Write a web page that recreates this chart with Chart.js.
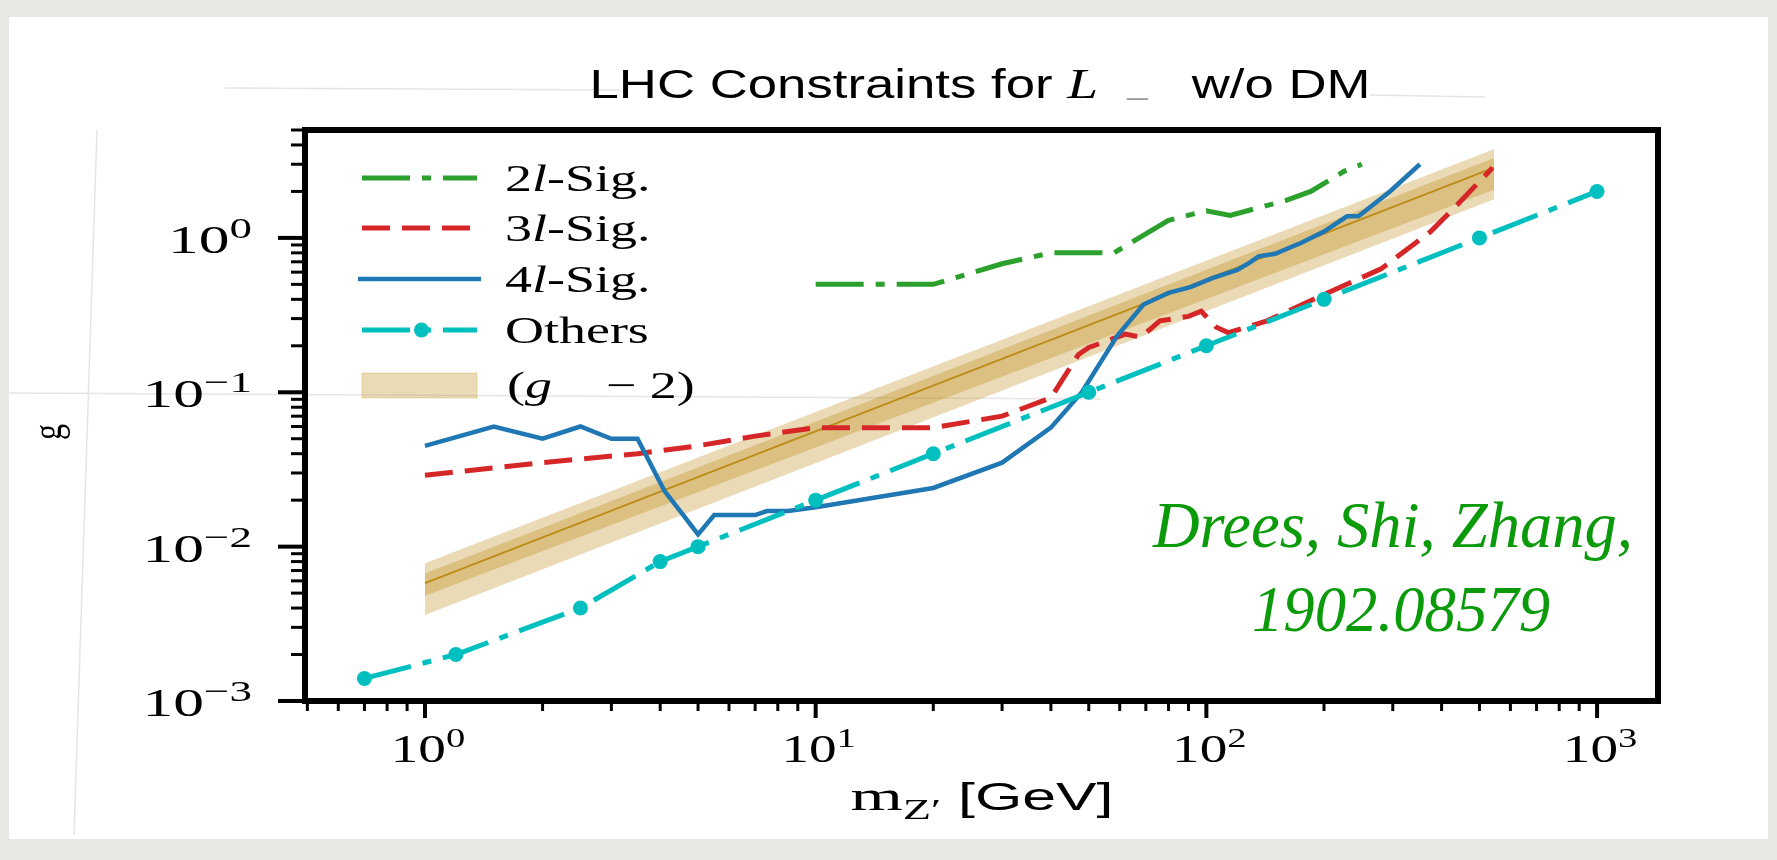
<!DOCTYPE html>
<html>
<head>
<meta charset="utf-8">
<script src="https://cdn.jsdelivr.net/npm/chart.js@4.4.1/dist/chart.umd.min.js"></script>
<style>
  html, body { margin: 0; padding: 0; background: #e9e7e4; overflow: hidden; }
  canvas { display: block; }
</style>
</head>
<body>
<canvas id="lhcChart" width="1777" height="860"></canvas>
<script>
// --- data (m_Z' in GeV, coupling g) ---
const x2l = [10, 20, 30, 40, 58, 80, 100, 115, 160, 185, 225, 250];
const y2l = [0.5, 0.5, 0.68, 0.8, 0.8, 1.3, 1.5, 1.4, 1.75, 2.0, 2.7, 3.0];

const x3l = [1, 2, 3.5, 5, 7, 10, 20, 30, 40, 47, 50, 62, 68, 76, 90, 97, 106, 114, 143, 192, 280, 375, 440, 540];
const y3l = [0.029, 0.035, 0.040, 0.045, 0.052, 0.059, 0.059, 0.070, 0.092, 0.175, 0.195, 0.238, 0.227, 0.29, 0.31, 0.335, 0.264, 0.243, 0.29, 0.41, 0.63, 1.1, 1.65, 2.85];

const x4l = [1, 1.5, 2, 2.5, 3, 3.5, 4.1, 4.5, 5, 5.5, 7, 7.5, 8.5, 10, 20, 30, 40, 48, 59, 69, 80, 91, 104, 120, 130, 136, 150, 175, 200, 229, 245, 295, 352];
const y4l = [0.045, 0.06, 0.05, 0.06, 0.05, 0.05, 0.023, 0.017, 0.012, 0.016, 0.016, 0.017, 0.017, 0.018, 0.024, 0.035, 0.059, 0.10, 0.23, 0.37, 0.44, 0.48, 0.55, 0.62, 0.70, 0.76, 0.79, 0.93, 1.1, 1.38, 1.38, 2.0, 3.0];

const xOthers = [0.7, 1.2, 2.5, 4, 5, 10, 20, 50, 100, 200, 500, 1000];
const yOthers = [0.0014, 0.002, 0.004, 0.008, 0.01, 0.02, 0.04, 0.1, 0.2, 0.4, 1.0, 2.0];

// (g-2) preferred band
const bandX = [1, 545];
const bandMid = [0.0058, 2.85];
const bandOuterUp = [0.0078, 3.75];
const bandOuterLow = [0.0036, 1.78];
const bandInnerUp = [0.0067, 3.3];
const bandInnerLow = [0.0048, 2.05];

// axis ticks
const xMajorTicks = [1, 10, 100, 1000];
const xTickExp = ['0', '1', '2', '3'];
const yMajorTicks = [0.001, 0.01, 0.1, 1];
const yTickExp = ['\u22123', '\u22122', '\u22121', '0'];

const pts = (xs, ys) => xs.map((x, i) => ({ x: x, y: ys[i] }));

const SERIF = '"Liberation Serif", "DejaVu Serif", serif';
const SANS = '"Liberation Sans", Arial, sans-serif';
const STRETCH = 1.42;

// draws a row of text pieces, optionally stretched horizontally
function drawRuns(ctx, runs, x, y, align, sx) {
    let total = 0;
    runs.forEach(r => { ctx.font = r.font; r.w = ctx.measureText(r.text).width; total += r.w; });
    const start = align === 'center' ? x - total * sx / 2 : (align === 'right' ? x - total * sx : x);
    ctx.save();
    ctx.translate(start, y);
    ctx.scale(sx, 1);
    ctx.textAlign = 'left';
    ctx.textBaseline = 'alphabetic';
    let cx = 0;
    runs.forEach(r => {
        ctx.font = r.font;
        ctx.fillStyle = r.color || '#000';
        ctx.fillText(r.text, cx, r.dy || 0);
        cx += r.w;
    });
    ctx.restore();
}

function runsWidth(ctx, runs) {
    let total = 0;
    runs.forEach(r => { ctx.font = r.font; total += ctx.measureText(r.text).width; });
    return total;
}

const decor = {
    id: 'decor',
    beforeDraw(chart) {
        const ctx = chart.ctx;
        ctx.save();
        ctx.fillStyle = '#e9e7e4';
        ctx.fillRect(0, 0, chart.width, chart.height);
        ctx.fillStyle = '#ffffff';
        ctx.fillRect(9, 17, 1759, 822);
        // faint scan lines of the slide
        ctx.strokeStyle = 'rgba(190,190,190,0.4)';
        ctx.lineWidth = 1.5;
        ctx.beginPath();
        ctx.moveTo(9, 393); ctx.lineTo(1100, 399);
        ctx.moveTo(225, 88); ctx.lineTo(620, 90);
        ctx.moveTo(1370, 95); ctx.lineTo(1485, 97);
        ctx.moveTo(97, 130); ctx.lineTo(74, 835);
        ctx.stroke();
        ctx.restore();
    },
    afterDraw(chart) {
        const ctx = chart.ctx;
        const a = chart.chartArea;
        const xs = chart.scales.x, ys = chart.scales.y;
        ctx.save();

        // ticks
        ctx.strokeStyle = '#000';
        [-1, 0, 1, 2, 3].forEach(d => {
            for (let m = 1; m <= 9; m++) {
                const v = m * Math.pow(10, d);
                const major = m === 1;
                if (v >= xs.min * 0.999 && v <= xs.max * 1.001) {
                    const px = xs.getPixelForValue(v);
                    ctx.lineWidth = major ? 4 : 3;
                    ctx.beginPath();
                    ctx.moveTo(px, a.bottom);
                    ctx.lineTo(px, a.bottom + (major ? 17 : 10));
                    ctx.stroke();
                }
            }
        });
        [-4, -3, -2, -1, 0].forEach(d => {
            for (let m = 1; m <= 9; m++) {
                const v = m * Math.pow(10, d);
                const major = m === 1;
                if (v >= ys.min * 0.999 && v <= ys.max * 1.001) {
                    const py = ys.getPixelForValue(v);
                    ctx.lineWidth = major ? 4 : 3;
                    ctx.beginPath();
                    ctx.moveTo(a.left, py);
                    ctx.lineTo(a.left - (major ? 27 : 14), py);
                    ctx.stroke();
                }
            }
        });

        // frame
        ctx.lineWidth = 6;
        ctx.strokeRect(a.left, a.top, a.right - a.left, a.bottom - a.top);

        // tick labels
        xMajorTicks.forEach((v, i) => {
            drawRuns(ctx, [
                { text: '10', font: '40px ' + SERIF },
                { text: xTickExp[i], font: '28px ' + SERIF, dy: -15 }
            ], xs.getPixelForValue(v) + 3, 762, 'center', 1.38);
        });
        yMajorTicks.forEach((v, i) => {
            drawRuns(ctx, [
                { text: '10', font: '41px ' + SERIF },
                { text: yTickExp[i], font: '30px ' + SERIF, dy: -15 }
            ], 252, ys.getPixelForValue(v) + 15, 'right', 1.5);
        });

        // axis labels
        const xLabel = [
            { text: 'm', font: '42px ' + SERIF },
            { text: 'Z\u2032', font: '29px ' + SERIF, dy: 9 },
            { text: ' [GeV]', font: '38px ' + SANS }
        ];
        drawRuns(ctx, xLabel, 982, 810, 'center', 263 / runsWidth(ctx, xLabel));

        ctx.save();
        ctx.translate(50, 432);
        ctx.scale(1.3, 1);
        ctx.rotate(-Math.PI / 2);
        ctx.font = '32px ' + SERIF;
        ctx.fillStyle = '#000';
        ctx.textAlign = 'center';
        ctx.textBaseline = 'middle';
        ctx.fillText('g', 0, 0);
        ctx.restore();

        // title
        const titleRuns = [
            { text: 'LHC Constraints for ', font: '40px ' + SANS },
            { text: 'L', font: 'italic 42px ' + SERIF },
            { text: '  ', font: '40px ' + SANS },
            { text: '_', font: '28px ' + SANS, color: '#9a9a9a', dy: -4 },
            { text: '   w/o DM', font: '40px ' + SANS }
        ];
        drawRuns(ctx, titleRuns, 980, 98, 'center', 781 / runsWidth(ctx, titleRuns));

        // legend
        const ds = chart.data.datasets;
        const lx0 = 362, lx1 = 477, tx = 505;
        const rows = [178, 228, 279, 330];
        const legendText = [
            [{ text: '2', font: '38px ' + SERIF }, { text: 'l', font: 'italic 38px ' + SERIF }, { text: '-Sig.', font: '38px ' + SERIF }],
            [{ text: '3', font: '38px ' + SERIF }, { text: 'l', font: 'italic 38px ' + SERIF }, { text: '-Sig.', font: '38px ' + SERIF }],
            [{ text: '4', font: '38px ' + SERIF }, { text: 'l', font: 'italic 38px ' + SERIF }, { text: '-Sig.', font: '38px ' + SERIF }],
            [{ text: 'Others', font: '38px ' + SERIF }]
        ];
        rows.forEach((ry, i) => {
            const d = ds[i];
            ctx.save();
            ctx.strokeStyle = d.borderColor;
            ctx.lineWidth = d.borderWidth;
            ctx.setLineDash(d.borderDash || []);
            ctx.lineCap = 'butt';
            ctx.beginPath();
            ctx.moveTo(i === 2 ? lx0 - 4 : lx0, ry);
            ctx.lineTo(i === 2 ? lx1 + 4 : lx1, ry);
            ctx.stroke();
            if (d.pointRadius > 0) {
                ctx.fillStyle = d.pointBackgroundColor;
                ctx.beginPath();
                ctx.arc((lx0 + lx1) / 2 + 2, ry, d.pointRadius, 0, Math.PI * 2);
                ctx.fill();
            }
            ctx.restore();
            drawRuns(ctx, legendText[i], tx, ry + 13, 'left', STRETCH);
        });
        // band patch
        ctx.fillStyle = ds[5].backgroundColor;
        ctx.fillRect(lx0, 373, lx1 - lx0, 25);
        ctx.strokeStyle = 'rgba(184,134,11,0.25)';
        ctx.lineWidth = 1;
        ctx.strokeRect(lx0, 373, lx1 - lx0, 25);
        drawRuns(ctx, [
            { text: '(', font: '38px ' + SERIF },
            { text: 'g', font: 'italic 38px ' + SERIF },
            { text: '    ', font: '38px ' + SERIF },
            { text: '\u2212 2)', font: '38px ' + SERIF }
        ], 507, 398, 'left', STRETCH);

        // reference note
        const green = '#0a9a0a';
        const note1 = [{ text: 'Drees, Shi, Zhang,', font: 'italic 66px ' + SERIF, color: green }];
        const note2 = [{ text: '1902.08579', font: 'italic 66px ' + SERIF, color: green }];
        drawRuns(ctx, note1, 1393, 547, 'center', 480 / runsWidth(ctx, note1));
        drawRuns(ctx, note2, 1401, 631, 'center', 298 / runsWidth(ctx, note2));

        ctx.restore();
    }
};

const tan = 'rgba(184,134,11,0.3)';

new Chart(document.getElementById('lhcChart'), {
    type: 'line',
    data: {
        datasets: [
            {
                label: '2l-Sig.', data: pts(x2l, y2l),
                borderColor: '#2ca02c', borderWidth: 5, borderDash: [48, 12, 9, 12],
                pointRadius: 0, fill: false, order: 4
            },
            {
                label: '3l-Sig.', data: pts(x3l, y3l),
                borderColor: '#d62728', borderWidth: 5, borderDash: [28, 12],
                pointRadius: 0, fill: false, order: 3
            },
            {
                label: '4l-Sig.', data: pts(x4l, y4l),
                borderColor: '#1f77b4', borderWidth: 4.5,
                pointRadius: 0, fill: false, order: 2
            },
            {
                label: 'Others', data: pts(xOthers, yOthers),
                borderColor: '#00bfbf', borderWidth: 5, borderDash: [48, 12, 9, 12],
                pointRadius: 7.5, pointBackgroundColor: '#00bfbf', pointBorderWidth: 0,
                fill: false, order: 1
            },
            {
                label: 'g-2 central', data: pts(bandX, bandMid),
                borderColor: 'rgba(184,134,11,0.9)', borderWidth: 1.8,
                pointRadius: 0, fill: false, order: 5
            },
            {
                label: '(g-2)', data: pts(bandX, bandOuterUp),
                borderWidth: 0, borderColor: 'rgba(0,0,0,0)', backgroundColor: tan,
                pointRadius: 0, fill: 6, order: 7
            },
            {
                label: 'outer low', data: pts(bandX, bandOuterLow),
                borderWidth: 0, borderColor: 'rgba(0,0,0,0)',
                pointRadius: 0, fill: false, order: 8
            },
            {
                label: 'inner up', data: pts(bandX, bandInnerUp),
                borderWidth: 0, borderColor: 'rgba(0,0,0,0)', backgroundColor: tan,
                pointRadius: 0, fill: 8, order: 6
            },
            {
                label: 'inner low', data: pts(bandX, bandInnerLow),
                borderWidth: 0, borderColor: 'rgba(0,0,0,0)',
                pointRadius: 0, fill: false, order: 6
            }
        ]
    },
    options: {
        responsive: false,
        animation: false,
        devicePixelRatio: 1,
        layout: { padding: { left: 305, right: 119, top: 130, bottom: 159 } },
        elements: { line: { tension: 0, borderCapStyle: 'butt' } },
        scales: {
            x: { type: 'logarithmic', min: 0.4931, max: 1432, display: false },
            y: { type: 'logarithmic', min: 0.001, max: 5, display: false }
        },
        plugins: {
            legend: { display: false },
            title: { display: false },
            tooltip: { enabled: false }
        }
    },
    plugins: [decor]
});
</script>
</body>
</html>
